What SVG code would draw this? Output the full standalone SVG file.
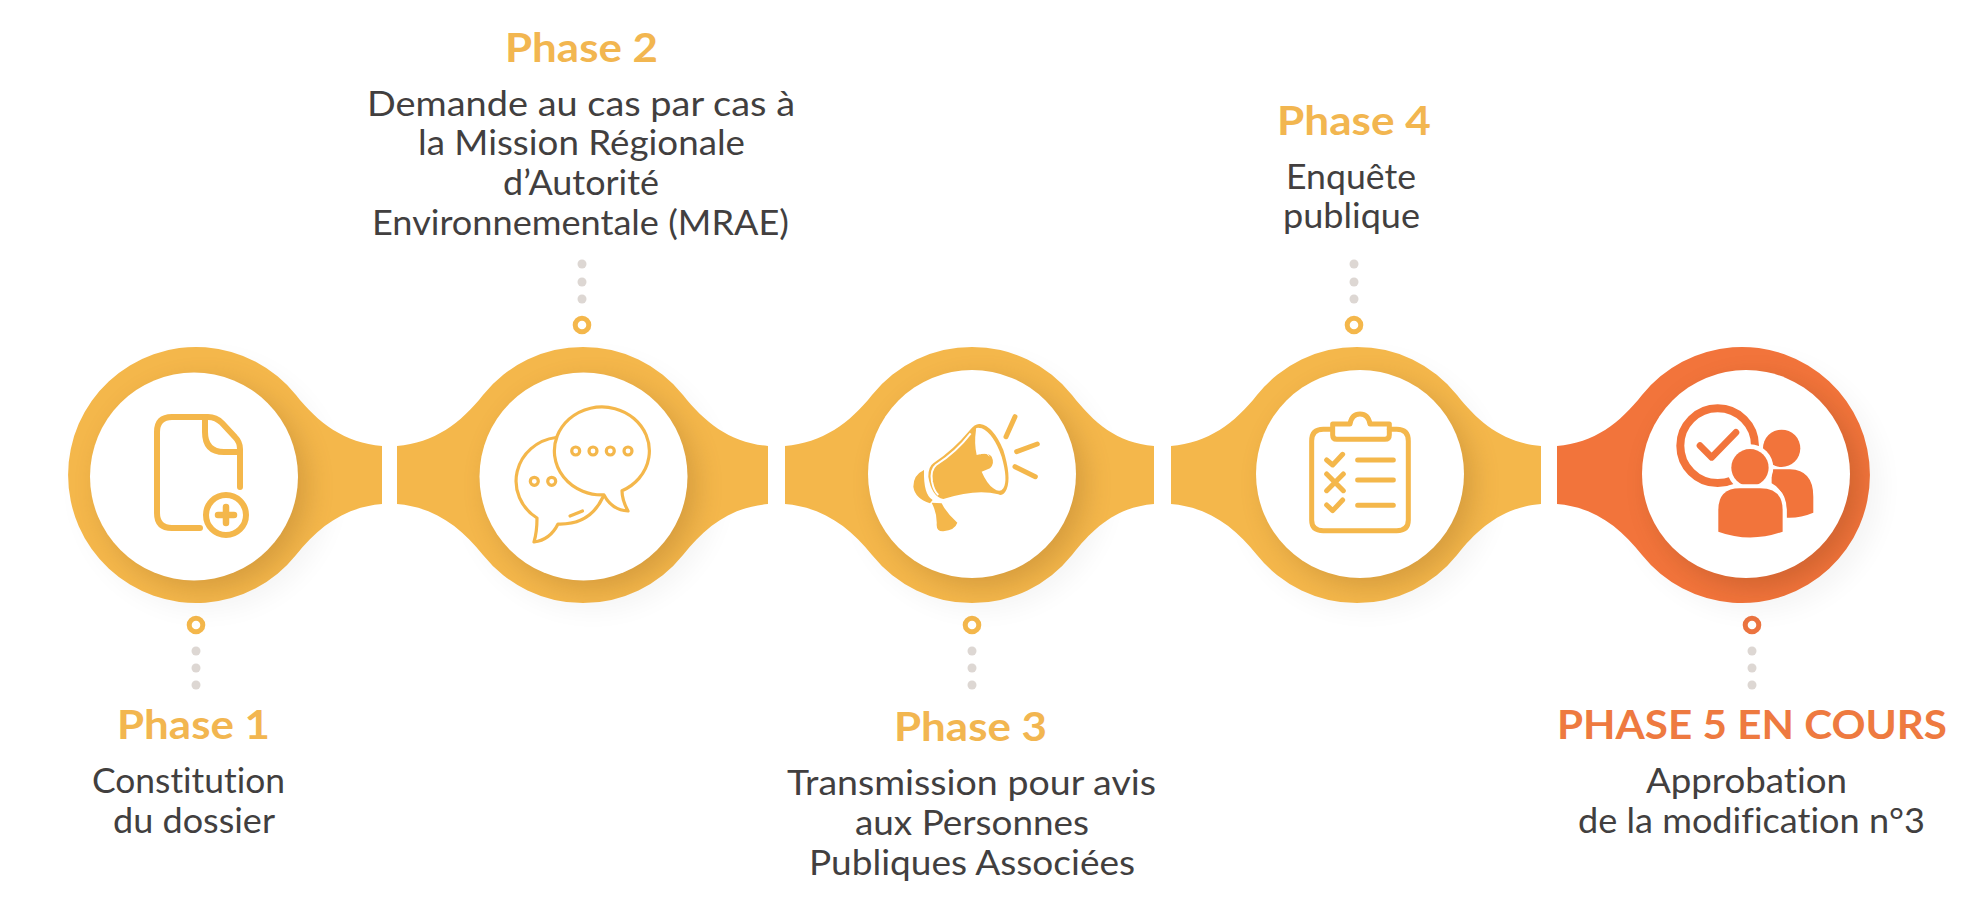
<svg xmlns="http://www.w3.org/2000/svg" width="1966" height="908" viewBox="0 0 1966 908">
<style>
.y{fill:#F4B74B}.o{fill:#F2743B}
.h{font-family:Lato,"Noto Sans",sans-serif;font-weight:700;font-size:41px;font-variant-ligatures:none}
.hy{fill:#F2B650}.ho{fill:#EE7A40}
.b{font-family:Lato,"Noto Sans",sans-serif;font-weight:400;font-size:34px;fill:#423F3F;font-variant-ligatures:none}
.w{fill:#fff}
.dot{fill:#DDD7D3}
.ry{fill:none;stroke:#F4B74B;stroke-width:5}
.ro{fill:none;stroke:#EC7440;stroke-width:5}
.sy{fill:none;stroke:#F4B74B;stroke-linecap:round;stroke-linejoin:round}
.so{fill:none;stroke:#F2743B;stroke-linecap:round;stroke-linejoin:round}
.ds{fill:#000;opacity:.04;filter:url(#b1)}
.dy{fill:#8A5A1E;opacity:.27;filter:url(#b2)}
</style>
<defs>
<filter id="b1" x="-30%" y="-30%" width="160%" height="160%"><feGaussianBlur stdDeviation="13"/></filter>
<filter id="b2" x="-30%" y="-30%" width="160%" height="160%"><feGaussianBlur stdDeviation="13"/></filter>
<path id="s1" d="M296,395C318,423 345,443 382,446V504C345,507 318,527 296,555A128,128 0 1 1 296,395Z"/>
<path id="s2" d="M483,395A128,128 0 0 1 683,395C705,423 731,443 768,446V504C731,507 705,527 683,555A128,128 0 0 1 483,555C461,527 434,507 397,504V446C434,443 461,423 483,395Z"/>
<path id="s3" d="M872,395A128,128 0 0 1 1072,395C1094,423 1117,443 1154,446V504C1117,507 1094,527 1072,555A128,128 0 0 1 872,555C850,527 822,507 785,504V446C822,443 850,423 872,395Z"/>
<path id="s4" d="M1257,395A128,128 0 0 1 1457,395C1479,423 1504,443 1541,446V504C1504,507 1479,527 1457,555A128,128 0 0 1 1257,555C1235,527 1208,507 1171,504V446C1208,443 1235,423 1257,395Z"/>
<path id="s5" d="M1642,395A128,128 0 1 1 1642,555C1620,527 1594,507 1557,504V446C1594,443 1620,423 1642,395Z"/>
<clipPath id="c1"><use href="#s1"/></clipPath>
<clipPath id="c2"><use href="#s2"/></clipPath>
<clipPath id="c3"><use href="#s3"/></clipPath>
<clipPath id="c4"><use href="#s4"/></clipPath>
<clipPath id="c5"><use href="#s5"/></clipPath>
</defs>
<rect width="1966" height="908" fill="#fff"/>

<g id="connectors">
<g class="dots"><circle class="dot" cx="196" cy="651" r="4.5"/><circle class="dot" cx="196" cy="668" r="4.5"/><circle class="dot" cx="196" cy="685" r="4.5"/><circle class="ry" cx="196" cy="625" r="6.8"/></g>
<g class="dots"><circle class="dot" cx="582" cy="264" r="4.5"/><circle class="dot" cx="582" cy="282" r="4.5"/><circle class="dot" cx="582" cy="299" r="4.5"/><circle class="ry" cx="582" cy="325" r="6.8"/></g>
<g class="dots"><circle class="dot" cx="972" cy="651" r="4.5"/><circle class="dot" cx="972" cy="668" r="4.5"/><circle class="dot" cx="972" cy="685" r="4.5"/><circle class="ry" cx="972" cy="625" r="6.8"/></g>
<g class="dots"><circle class="dot" cx="1354" cy="264" r="4.5"/><circle class="dot" cx="1354" cy="282" r="4.5"/><circle class="dot" cx="1354" cy="299" r="4.5"/><circle class="ry" cx="1354" cy="325" r="6.8"/></g>
<g class="dots"><circle class="dot" cx="1752" cy="651" r="4.5"/><circle class="dot" cx="1752" cy="668" r="4.5"/><circle class="dot" cx="1752" cy="685" r="4.5"/><circle class="ro" cx="1752" cy="625" r="6.8"/></g>
</g>

<g id="phase1">
<circle class="ds" cx="206" cy="485" r="126"/>
<use href="#s1" class="y"/>
<g clip-path="url(#c1)"><circle class="dy" cx="204" cy="486" r="104"/></g>
<circle class="w" cx="194" cy="476.5" r="104"/>
<g class="sy" stroke-width="6">
<path d="M200,528H172Q157,528 157,513V432Q157,417 172,417H208Q216,417 222,423L235,437Q240,442 240,449V487"/>
<path d="M205,419V432Q205,452 224,452H240"/>
<circle cx="226" cy="515" r="20"/>
<path d="M226,507V523M218,515H234" stroke-width="6.5"/>
</g>
<text class="h hy" x="117" y="739" textLength="153" lengthAdjust="spacingAndGlyphs">Phase 1</text>
<text class="b" x="92" y="793" textLength="193" lengthAdjust="spacingAndGlyphs">Constitution</text>
<text class="b" x="113" y="833" textLength="162" lengthAdjust="spacingAndGlyphs">du dossier</text>
</g>

<g id="phase2">
<circle class="ds" cx="593" cy="485" r="126"/>
<use href="#s2" class="y"/>
<g clip-path="url(#c2)"><circle class="dy" cx="593" cy="486" r="104"/></g>
<circle class="w" cx="583.5" cy="476.5" r="104"/>
<g class="sy" stroke-width="3.2">
<path d="M604,494.9A47.5,44 0 1 1 622,490.8Q622,500 628,511Q612,510 604,494.9Z"/>
<path d="M556,437.5A46,44 0 0 0 537,518Q537,532 534,542Q550,540 558,524Q590,525 603,497"/>
<path d="M570,516L582.5,511"/>
<circle cx="575.7" cy="451" r="4"/><circle cx="593" cy="451" r="4"/><circle cx="610.3" cy="451" r="4"/><circle cx="628" cy="451" r="4"/>
<circle cx="534.3" cy="481.3" r="4"/><circle cx="551.7" cy="481.3" r="4"/>
</g>
<text class="h hy" x="505" y="62" textLength="153" lengthAdjust="spacingAndGlyphs">Phase 2</text>
<text class="b" x="367" y="116" textLength="428" lengthAdjust="spacingAndGlyphs">Demande au cas par cas à</text>
<text class="b" x="418" y="155" textLength="327" lengthAdjust="spacingAndGlyphs">la Mission Régionale</text>
<text class="b" x="503" y="195" textLength="156" lengthAdjust="spacingAndGlyphs">d’Autorité</text>
<text class="b" x="372" y="235" textLength="417" lengthAdjust="spacingAndGlyphs">Environnementale (MRAE)</text>
</g>

<g id="phase3">
<circle class="ds" cx="982" cy="485" r="126"/>
<use href="#s3" class="y"/>
<g clip-path="url(#c3)"><circle class="dy" cx="982" cy="484" r="104"/></g>
<circle class="w" cx="972" cy="474" r="104"/>
<g transform="translate(900 400) scale(.3333)">
<path class="y" d="M100,190Q160,150 210,90Q225,70 240,72Q280,78 310,150Q335,230 320,268Q310,290 295,283Q230,265 130,297Q95,290 85,230Q85,200 100,190Z"/>
<path class="w" d="M228,90Q225,80 245,85Q280,100 305,170Q325,240 310,265Q300,280 280,265Q260,250 245,215L270,205Q285,190 275,170Q265,155 230,165Q222,130 228,90Z"/>
<path d="M212,100Q170,155 108,195Q90,210 96,245Q102,275 115,285" fill="none" stroke="#fff" stroke-width="6"/>
<path d="M240,162Q255,152 268,168" fill="none" stroke="#fff" stroke-width="3"/>
<path class="y" d="M72,210Q40,225 40,260Q45,295 90,310L98,300Q70,285 72,210Z"/>
<path class="y" d="M95,308L125,310Q140,340 172,368Q165,390 130,394Q110,395 110,375Q112,340 95,308Z"/>
<path class="sy" stroke-width="15" d="M345,50L318,110M412,132L350,155M406,230L345,200"/>
</g>
<text class="h hy" x="894" y="741" textLength="153" lengthAdjust="spacingAndGlyphs">Phase 3</text>
<text class="b" x="787" y="795" textLength="369" lengthAdjust="spacingAndGlyphs">Transmission pour avis</text>
<text class="b" x="855" y="835" textLength="234" lengthAdjust="spacingAndGlyphs">aux Personnes</text>
<text class="b" x="809" y="875" textLength="326" lengthAdjust="spacingAndGlyphs">Publiques Associées</text>
</g>

<g id="phase4">
<circle class="ds" cx="1367" cy="485" r="126"/>
<use href="#s4" class="y"/>
<g clip-path="url(#c4)"><circle class="dy" cx="1370" cy="484" r="104"/></g>
<circle class="w" cx="1360" cy="474" r="104"/>
<g class="sy" transform="translate(1290 400) scale(.3333)" stroke-width="15">
<path d="M125,88H100Q65,88 65,123V360Q65,392 100,392H320Q355,392 355,360V123Q355,88 320,88H298"/>
<path d="M128,72H180Q185,42 210,42Q235,42 240,72H298V105Q298,118 285,118H140Q128,118 128,105Z"/>
<path d="M110,180L128,195L158,163M110,222L160,272M160,222L110,272M110,315L128,332L158,300"/>
<path d="M203,180H310M203,240H310M203,316H310"/>
</g>
<text class="h hy" x="1277" y="135" textLength="154" lengthAdjust="spacingAndGlyphs">Phase 4</text>
<text class="b" x="1286" y="189" textLength="130" lengthAdjust="spacingAndGlyphs">Enquête</text>
<text class="b" x="1283" y="228" textLength="137" lengthAdjust="spacingAndGlyphs">publique</text>
</g>

<g id="phase5">
<circle class="ds" cx="1755" cy="486" r="126"/>
<use href="#s5" class="o"/>
<g clip-path="url(#c5)"><circle fill="#7A3A16" opacity=".27" filter="url(#b2)" cx="1756" cy="484" r="104"/></g>
<circle class="w" cx="1746" cy="474" r="104"/>
<g transform="translate(1500 320) scale(.3333)">
<circle cx="653" cy="377" r="112" fill="none" stroke="#F2743B" stroke-width="24"/>
<path class="so" stroke-width="20" d="M600,377L635,412L708,337"/>
<circle class="o" cx="845" cy="385" r="56"/>
<path class="o" d="M815,448H870Q940,450 940,530V578Q900,595 860,593V570Q855,510 815,490Z"/>
<circle class="w" cx="750" cy="443" r="70"/>
<circle class="o" cx="750" cy="443" r="56"/>
<path class="w" d="M643,648V570Q643,493 720,493H780Q860,493 860,570V648Z"/>
<path class="o" d="M655,635V570Q655,505 720,505H780Q848,505 848,570V635Q750,670 655,635Z"/>
</g>
<text class="h ho" x="1557" y="739" textLength="390" lengthAdjust="spacingAndGlyphs">PHASE 5 EN COURS</text>
<text class="b" x="1646" y="793" textLength="201" lengthAdjust="spacingAndGlyphs">Approbation</text>
<text class="b" x="1578" y="833" textLength="347" lengthAdjust="spacingAndGlyphs">de la modification n°3</text>
</g>
</svg>
